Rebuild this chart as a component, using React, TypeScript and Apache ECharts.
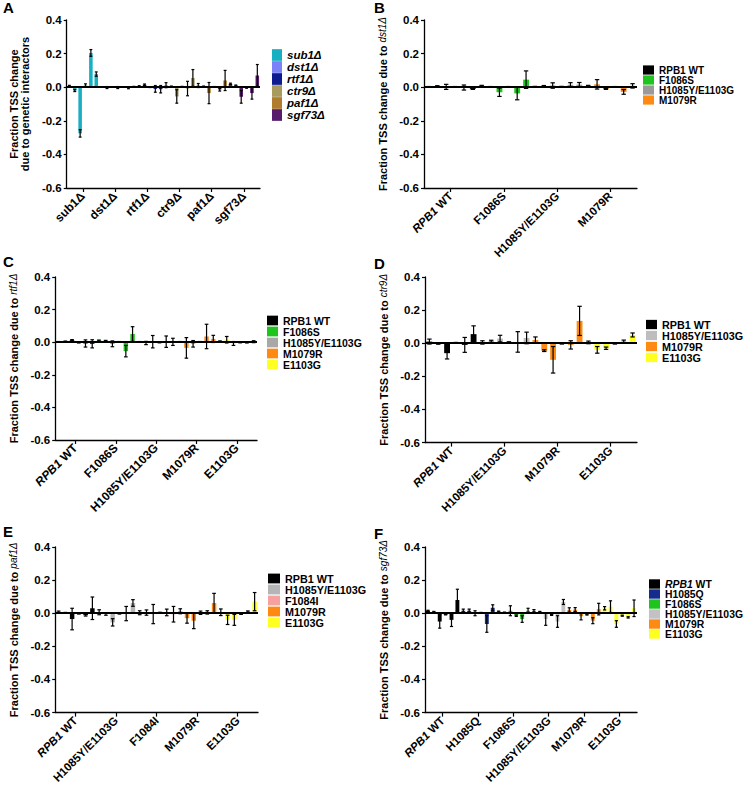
import React, { useEffect, useRef } from 'react';
import * as echarts from 'echarts';

// ---------------- DATA ----------------
const A_GROUPS = ['sub1Δ', 'dst1Δ', 'rtf1Δ', 'ctr9Δ', 'paf1Δ', 'sgf73Δ'];
const A_VALUES = [
  [0.008, -0.02, -0.275, 0.01, 0.204, 0.078],
  [0.001, -0.002, 0.001, -0.002, 0.001, -0.003],
  [0.003, 0.006, 0.015, 0.0, -0.01, -0.012],
  [0.012, 0.004, -0.055, 0.003, -0.008, 0.055],
  [0.01, 0.004, -0.035, 0.002, -0.015, 0.04],
  [0.02, 0.01, -0.057, -0.004, -0.035, 0.07],
];
const A_ERRORS = [
  [0.003, 0.006, 0.022, 0.01, 0.02, 0.013],
  [0.002, 0.006, 0.002, 0.006, 0.002, 0.006],
  [0.002, 0.003, 0.004, 0.002, 0.02, 0.022],
  [0.015, 0.003, 0.04, 0.002, 0.043, 0.05],
  [0.012, 0.003, 0.063, 0.002, 0.008, 0.06],
  [0.004, 0.003, 0.038, 0.002, 0.036, 0.065],
];

const B_GROUPS = ['RPB1 WT', 'F1086S', 'H1085Y/E1103G', 'M1079R'];
const B_VALUES = [
  [0.002, 0.006, 0.002, 0.002, -0.002, -0.01],
  [0.008, 0.002, -0.03, 0.002, -0.037, 0.045],
  [0.003, 0.005, 0.01, 0.003, 0.014, 0.015],
  [0.008, 0.017, -0.01, 0.002, -0.028, 0.008],
];
const B_ERRORS = [
  [0.002, 0.003, 0.015, 0.002, 0.015, 0.003],
  [0.003, 0.002, 0.025, 0.002, 0.038, 0.052],
  [0.002, 0.005, 0.016, 0.002, 0.013, 0.013],
  [0.003, 0.028, 0.003, 0.002, 0.014, 0.013],
];

const C_GROUPS = ['RPB1 WT', 'F1086S', 'H1085Y/E1103G', 'M1079R', 'E1103G'];
const C_VALUES = [
  [0.002, 0.005, 0.012, -0.003, -0.008, -0.01],
  [0.01, 0.008, -0.01, 0.002, -0.055, 0.05],
  [0.002, -0.005, 0.003, -0.002, 0.003, 0.002],
  [0.002, -0.035, -0.01, 0.002, 0.035, 0.02],
  [0.006, 0.015, -0.008, -0.002, -0.003, 0.003],
];
const C_ERRORS = [
  [0.002, 0.002, 0.004, 0.002, 0.022, 0.025],
  [0.003, 0.003, 0.018, 0.002, 0.035, 0.045],
  [0.002, 0.01, 0.038, 0.002, 0.035, 0.022],
  [0.002, 0.063, 0.02, 0.002, 0.075, 0.022],
  [0.002, 0.02, 0.012, 0.002, 0.002, 0.006],
];

const D_GROUPS = ['RPB1 WT', 'H1085Y/E1103G', 'M1079R', 'E1103G'];
const D_VALUES = [
  [0.01, -0.003, -0.06, 0.003, -0.01, 0.055],
  [0.005, 0.012, 0.028, 0.006, 0.008, 0.032],
  [0.02, -0.045, -0.1, -0.003, -0.01, 0.135],
  [0.005, -0.04, -0.03, -0.003, 0.012, 0.05],
];
const D_ERRORS = [
  [0.015, 0.003, 0.035, 0.002, 0.045, 0.05],
  [0.01, 0.006, 0.02, 0.003, 0.062, 0.035],
  [0.018, 0.005, 0.08, 0.002, 0.025, 0.088],
  [0.008, 0.02, 0.007, 0.002, 0.007, 0.012],
];

const E_GROUPS = ['RPB1 WT', 'H1085Y/E1103G', 'F1084I', 'M1079R', 'E1103G'];
const E_VALUES = [
  [0.008, 0.003, -0.035, -0.003, -0.012, 0.03],
  [0.006, -0.004, -0.055, -0.003, -0.002, 0.062],
  [0.003, 0.004, -0.005, 0.003, 0.005, -0.006],
  [0.012, -0.03, -0.045, 0.003, 0.005, 0.062],
  [0.006, -0.04, -0.04, -0.005, 0.01, 0.07],
];
const E_ERRORS = [
  [0.005, 0.002, 0.065, 0.002, 0.005, 0.068],
  [0.015, 0.008, 0.022, 0.002, 0.043, 0.02],
  [0.012, 0.016, 0.058, 0.003, 0.02, 0.047],
  [0.015, 0.03, 0.048, 0.01, 0.01, 0.058],
  [0.02, 0.028, 0.033, 0.002, 0.004, 0.055],
];

const F_GROUPS = ['RPB1 WT', 'H1085Q', 'F1086S', 'H1085Y/E1103G', 'M1079R', 'E1103G'];
const F_VALUES = [
  [0.015, 0.008, -0.05, -0.008, -0.04, 0.08],
  [0.015, 0.015, 0.0, 0.003, -0.065, 0.033],
  [0.01, 0.005, 0.015, -0.015, -0.035, 0.015],
  [0.015, 0.008, -0.035, -0.01, -0.05, 0.068],
  [0.02, 0.022, -0.018, -0.008, -0.045, 0.025],
  [0.03, 0.04, -0.065, -0.015, -0.025, 0.03],
];
const F_ERRORS = [
  [0.003, 0.003, 0.04, 0.002, 0.04, 0.065],
  [0.01, 0.01, 0.015, 0.002, 0.05, 0.018],
  [0.003, 0.002, 0.03, 0.004, 0.02, 0.015],
  [0.007, 0.003, 0.038, 0.003, 0.035, 0.015],
  [0.013, 0.012, 0.022, 0.003, 0.018, 0.035],
  [0.01, 0.035, 0.02, 0.003, 0.004, 0.05],
];

const Y_TICKS = { min: -0.6, max: 0.4, interval: 0.2 };

// ---------------- STYLE ----------------
const FONT = '"Liberation Sans", Arial, Helvetica, sans-serif';
const C_BLACK = '#000000';
const C_GREEN = '#1fc41f';
const C_ORANGE = '#ff8a12';
const C_YELLOW = '#ffff22';
const C_PINK = '#f6a0a0';
const C_NAVY = '#142c8e';

type Spec = {
  letter: string;
  groups: string[];
  values: number[][];
  errors: number[][];
  colors: string[];
  yName: string;
  div: { left: number; top: number; width: number; height: number };
  grid: { left: number; top: number; width: number; height: number };
  letterPos: [number, number];
  legend: { left: number; top: number; iw: number; ih: number; fs: number; italicAll?: boolean; richRPB1?: boolean };
  nameGap: number;
  xFont: number;
  richXRPB1: boolean;
};

const SPECS: Spec[] = [
  {
    letter: 'A', groups: A_GROUPS, values: A_VALUES, errors: A_ERRORS,
    colors: ['#17b0c2', '#7b82f7', '#0d1b8e', '#a99b5e', '#b07d2e', '#581a6c'],
    yName: 'Fraction TSS change\ndue to genetic interactors',
    div: { left: 0, top: 0, width: 372, height: 262 },
    grid: { left: 49, top: 20, width: 211, height: 168 },
    letterPos: [3, 0],
    legend: { left: 272, top: 49, iw: 10, ih: 11.7, fs: 11.5, italicAll: true },
    nameGap: 25, xFont: 12, richXRPB1: false,
  },
  {
    letter: 'B', groups: B_GROUPS, values: B_VALUES, errors: B_ERRORS,
    colors: [C_BLACK, C_GREEN, '#9a9a9a', C_ORANGE],
    yName: 'Fraction TSS change due to {i|dst1Δ}',
    div: { left: 366, top: 0, width: 379, height: 262 },
    grid: { left: 58, top: 20, width: 213, height: 168 },
    letterPos: [8, 0],
    legend: { left: 277, top: 65, iw: 11, ih: 9.2, fs: 10 },
    nameGap: 24, xFont: 11.5, richXRPB1: true,
  },
  {
    letter: 'C', groups: C_GROUPS, values: C_VALUES, errors: C_ERRORS,
    colors: [C_BLACK, C_GREEN, '#a8a8a8', C_ORANGE, C_YELLOW],
    yName: 'Fraction TSS change due to {i|rtf1Δ}',
    div: { left: 0, top: 250, width: 372, height: 266 },
    grid: { left: 50, top: 27, width: 207, height: 168 },
    letterPos: [3, 4],
    legend: { left: 267, top: 65, iw: 11, ih: 9.7, fs: 10.5 },
    nameGap: 29, xFont: 12, richXRPB1: true,
  },
  {
    letter: 'D', groups: D_GROUPS, values: D_VALUES, errors: D_ERRORS,
    colors: [C_BLACK, '#bdbdbd', C_ORANGE, C_YELLOW],
    yName: 'Fraction TSS change due to {i|ctr9Δ}',
    div: { left: 366, top: 250, width: 379, height: 266 },
    grid: { left: 59, top: 27, width: 212, height: 168 },
    letterPos: [8, 6],
    legend: { left: 280, top: 69, iw: 11, ih: 9.3, fs: 10.8 },
    nameGap: 21, xFont: 11.5, richXRPB1: true,
  },
  {
    letter: 'E', groups: E_GROUPS, values: E_VALUES, errors: E_ERRORS,
    colors: [C_BLACK, '#b5b5b8', C_PINK, C_ORANGE, C_YELLOW],
    yName: 'Fraction TSS change due to {i|paf1Δ}',
    div: { left: 0, top: 514, width: 372, height: 272 },
    grid: { left: 50, top: 33, width: 208, height: 169 },
    letterPos: [3, 10],
    legend: { left: 268, top: 59, iw: 12, ih: 9.8, fs: 10.8 },
    nameGap: 30, xFont: 11.5, richXRPB1: true,
  },
  {
    letter: 'F', groups: F_GROUPS, values: F_VALUES, errors: F_ERRORS,
    colors: [C_BLACK, C_NAVY, C_GREEN, '#c2c2c4', C_ORANGE, C_YELLOW],
    yName: 'Fraction TSS change due to {i|sgf73Δ}',
    div: { left: 366, top: 514, width: 379, height: 272 },
    grid: { left: 59, top: 33, width: 212, height: 168 },
    letterPos: [8, 12],
    legend: { left: 283, top: 65, iw: 11, ih: 9.4, fs: 10.4, richRPB1: true },
    nameGap: 25, xFont: 11.5, richXRPB1: true,
  },
];

function buildOption(s: Spec): any {
  const per = s.values[0].length;
  const total = s.groups.length * per;
  const cats: string[] = [];
  for (let k = 0; k < total; k++) cats.push('b' + k);

  const barSeries = s.groups.map((g, gi) => {
    const ser: any = {
      type: 'bar',
      name: g,
      xAxisIndex: 0,
      yAxisIndex: 0,
      barWidth: '66%',
      barGap: '-100%',
      itemStyle: { color: s.colors[gi] },
      data: cats.map((_, k) => (Math.floor(k / per) === gi ? s.values[gi][k % per] : null)),
      z: 2,
    };
    if (gi === 0) {
      ser.markLine = {
        silent: true,
        symbol: ['none', 'none'],
        label: { show: false },
        lineStyle: { color: '#000', width: 1.8, type: 'solid' },
        data: [{ yAxis: 0 }],
        z: 5,
      };
    }
    return ser;
  });

  const errData: number[][] = [];
  s.values.forEach((vals, gi) =>
    vals.forEach((v, j) => {
      const e = s.errors[gi][j];
      errData.push([gi * per + j, v - e, v + e]);
    })
  );

  const errSeries = {
    type: 'custom',
    xAxisIndex: 0,
    yAxisIndex: 0,
    z: 6,
    silent: true,
    data: errData,
    encode: { x: 0, y: [1, 2] },
    renderItem: (params: any, api: any) => {
      const x = api.value(0);
      const lo = api.coord([x, api.value(1)]);
      const hi = api.coord([x, api.value(2)]);
      const bw = api.size([1, 0])[0];
      const cw = Math.min(bw * 0.27, 2.2);
      const st = { stroke: '#000', lineWidth: 1.2 };
      return {
        type: 'group',
        children: [
          { type: 'line', shape: { x1: lo[0], y1: lo[1], x2: hi[0], y2: hi[1] }, style: st },
          { type: 'line', shape: { x1: lo[0] - cw, y1: lo[1], x2: lo[0] + cw, y2: lo[1] }, style: st },
          { type: 'line', shape: { x1: hi[0] - cw, y1: hi[1], x2: hi[0] + cw, y2: hi[1] }, style: st },
        ],
      };
    },
  };

  const lg = s.legend;
  const legendRich = {
    i: { fontStyle: 'italic', fontWeight: 'bold', fontSize: lg.fs, lineHeight: lg.ih, fontFamily: FONT, color: '#000' },
  };

  return {
    animation: false,
    textStyle: { fontFamily: FONT },
    graphic: [
      {
        type: 'text',
        left: s.letterPos[0],
        top: s.letterPos[1],
        style: { text: s.letter, font: `bold 15px ${FONT}`, fill: '#000' },
      },
    ],
    grid: { ...s.grid, containLabel: false },
    legend: {
      show: true,
      orient: 'vertical',
      left: lg.left,
      top: lg.top,
      padding: 0,
      itemGap: 0,
      itemWidth: lg.iw,
      itemHeight: lg.ih,
      icon: 'rect',
      selectedMode: false,
      data: s.groups,
      formatter: (name: string) => (lg.richRPB1 ? name.replace('RPB1', '{i|RPB1}') : name),
      textStyle: {
        fontFamily: FONT,
        fontWeight: 'bold',
        fontStyle: lg.italicAll ? 'italic' : 'normal',
        fontSize: lg.fs,
        lineHeight: lg.ih,
        color: '#000',
        rich: legendRich,
      },
    },
    xAxis: [
      {
        type: 'category',
        data: cats,
        show: false,
        boundaryGap: true,
      },
      {
        type: 'category',
        data: s.groups,
        position: 'bottom',
        boundaryGap: true,
        axisLine: { show: true, onZero: false, lineStyle: { color: '#000', width: 1.3 } },
        axisTick: { show: true, alignWithLabel: true, length: 4, lineStyle: { color: '#000', width: 1.2 } },
        axisLabel: {
          interval: 0,
          rotate: 45,
          margin: 6,
          color: '#000',
          fontFamily: FONT,
          fontWeight: 'bold',
          fontSize: s.xFont,
          formatter: (v: string) => (s.richXRPB1 ? v.replace('RPB1', '{i|RPB1}') : v),
          rich: {
            i: { fontStyle: 'italic', fontWeight: 'bold', fontSize: s.xFont, fontFamily: FONT, color: '#000' },
          },
        },
        splitLine: { show: false },
      },
    ],
    yAxis: {
      type: 'value',
      min: Y_TICKS.min,
      max: Y_TICKS.max,
      interval: Y_TICKS.interval,
      name: s.yName,
      nameLocation: 'middle',
      nameRotate: 90,
      nameGap: s.nameGap,
      nameTextStyle: {
        fontFamily: FONT,
        fontWeight: 'bold',
        fontSize: 11,
        lineHeight: 11.5,
        color: '#000',
        rich: {
          i: { fontStyle: 'italic', fontWeight: 'normal', fontSize: 10, fontFamily: FONT, color: '#000' },
        },
      },
      axisLine: { show: true, lineStyle: { color: '#000', width: 1.3 } },
      axisTick: { show: true, length: 3, lineStyle: { color: '#000', width: 1.2 } },
      axisLabel: {
        margin: 5,
        color: '#000',
        fontFamily: FONT,
        fontWeight: 'bold',
        fontSize: 11.5,
        formatter: (v: number) => v.toFixed(1),
      },
      splitLine: { show: false },
    },
    series: [...barSeries, errSeries],
  };
}

function Panel({ spec }: { spec: Spec }) {
  const ref = useRef<HTMLDivElement>(null);
  useEffect(() => {
    if (!ref.current) return;
    const chart = echarts.init(ref.current, undefined, { renderer: 'svg' });
    chart.setOption(buildOption(spec));
    return () => chart.dispose();
  }, [spec]);
  return (
    <div
      ref={ref}
      style={{
        position: 'absolute',
        left: spec.div.left,
        top: spec.div.top,
        width: spec.div.width,
        height: spec.div.height,
      }}
    />
  );
}

export default function App() {
  return (
    <div style={{ position: 'absolute', left: 0, top: 0, width: 745, height: 786, background: '#fff' }}>
      {SPECS.map((s) => (
        <Panel key={s.letter} spec={s} />
      ))}
    </div>
  );
}
